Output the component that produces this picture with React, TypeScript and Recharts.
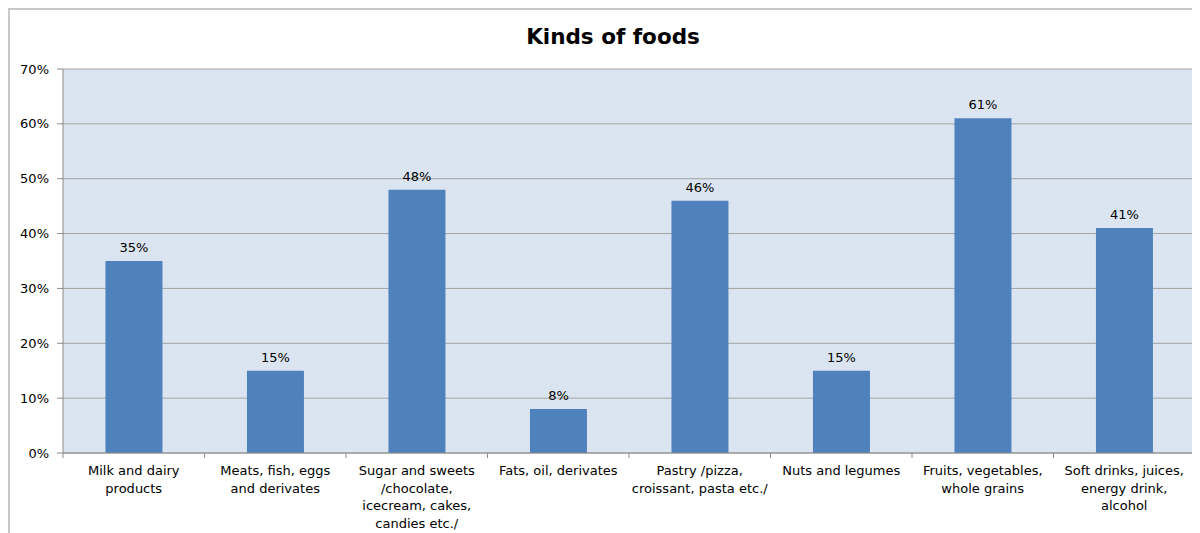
import { BarChart, Bar, XAxis, YAxis, CartesianGrid, LabelList } from "recharts";

const categories = [
  "Milk and dairy\nproducts",
  "Meats, fish, eggs\nand derivates",
  "Sugar and sweets\n/chocolate,\nicecream, cakes,\ncandies etc./",
  "Fats, oil, derivates",
  "Pastry /pizza,\ncroissant, pasta etc./",
  "Nuts and legumes",
  "Fruits, vegetables,\nwhole grains",
  "Soft drinks, juices,\nenergy drink,\nalcohol",
];
const shares = [35, 15, 48, 8, 46, 15, 61, 41];
const yTicks = [0, 10, 20, 30, 40, 50, 60, 70];

const data = categories.map((name, i) => ({ name, value: shares[i] }));

const FONT = "'DejaVu Sans', sans-serif";
const AXIS = "#8c8c8c";

function CategoryTick(props: any) {
  const { x, y, payload, index } = props;
  const half = payload?.offset ?? 70.75;
  const lines = String(payload.value).split("\n");
  return (
    <g>
      <line x1={x - half} y1={y - 8} x2={x - half} y2={y - 3} stroke={AXIS} />
      {index === categories.length - 1 && (
        <line x1={x + half} y1={y - 8} x2={x + half} y2={y - 3} stroke={AXIS} />
      )}
      <text x={x} y={y + 14} textAnchor="middle" fontSize={13} fill="#000" fontFamily={FONT}>
        {lines.map((l, i) => (
          <tspan key={i} x={x} dy={i === 0 ? 0 : 17.7}>
            {l}
          </tspan>
        ))}
      </text>
    </g>
  );
}

export default function App() {
  return (
    <div
      style={{
        position: "relative",
        width: 1192,
        height: 525,
        borderTop: "2px solid #c8c8c8",
        borderLeft: "2px solid #c8c8c8",
        fontFamily: FONT,
        overflow: "hidden",
      }}
    >
      <div
        style={{
          position: "absolute",
          left: 0,
          top: 14,
          width: 1206,
          textAlign: "center",
          fontSize: 21.5,
          fontWeight: 700,
          lineHeight: "26px",
        }}
      >
        Kinds of foods
      </div>
      <BarChart
        width={1190}
        height={523}
        data={data}
        margin={{ top: 59, right: 5, bottom: 0, left: 0 }}
        barCategoryGap="30%"
      >
        <CartesianGrid vertical={false} fill="#dbe5f1" stroke="#a3a3a3" fillOpacity={1} />
        <XAxis
          dataKey="name"
          height={80}
          interval={0}
          axisLine={{ stroke: AXIS }}
          tickLine={false}
          tick={<CategoryTick />}
        />
        <YAxis
          width={53}
          domain={[0, 70]}
          ticks={yTicks}
          interval={0}
          tickFormatter={(v: number) => `${v}%`}
          axisLine={{ stroke: AXIS }}
          tickLine={{ stroke: AXIS }}
          tickSize={6}
          tickMargin={8}
          tick={{ fontSize: 13, fill: "#000", fontFamily: FONT }}
        />
        <Bar dataKey="value" fill="#4f81bd" isAnimationActive={false}>
          <LabelList
            dataKey="value"
            position="top"
            offset={9}
            formatter={(v: any) => `${v}%`}
            style={{ fontSize: 13, fill: "#000", fontFamily: FONT }}
          />
        </Bar>
      </BarChart>
    </div>
  );
}
